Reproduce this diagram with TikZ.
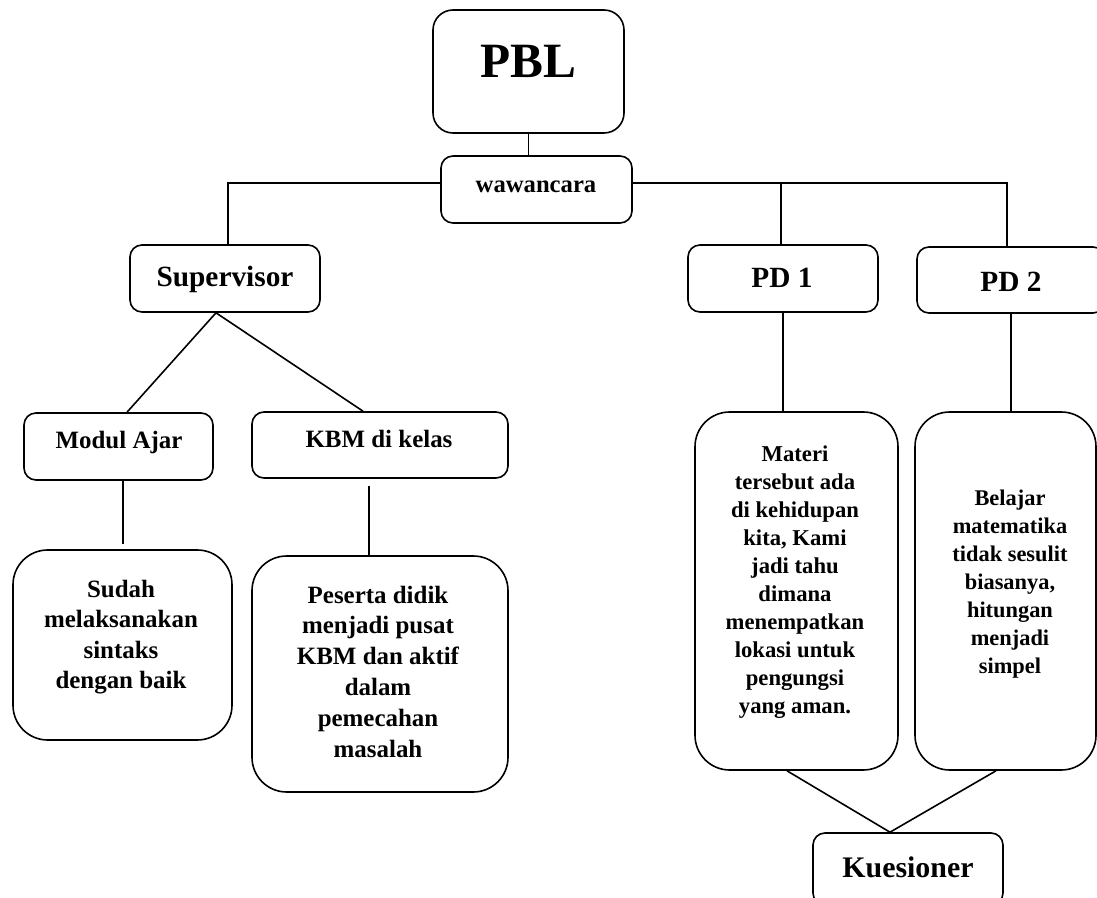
\documentclass[tikz,border=0pt]{standalone}
\usepackage{fontspec}
\setmainfont{Liberation Serif}
\usetikzlibrary{calc}
\begin{document}
\begin{tikzpicture}[x=0.75pt,y=-0.75pt,line width=1.2pt,
  box/.style={draw,inner sep=0pt,rounded corners=9pt,line width=1.2pt},
  bigbox/.style={draw,inner sep=0pt,rounded corners=26pt,line width=1.2pt},
  txt/.style={inner sep=0pt,anchor=base},
  mtxt/.style={inner sep=0pt,anchor=center,align=center}]
\useasboundingbox (0,0) rectangle (1097,898);
\clip (0,0) rectangle (1097,898);
% boxes
\node[box,rounded corners=15pt,minimum width=143.25pt,minimum height=92.25pt] (pbl) at (528.5,71.5) {};
\node[box,minimum width=143.25pt,minimum height=50.25pt] (waw) at (536.5,189.5) {};
\node[box,minimum width=142.5pt,minimum height=50.25pt] (sup) at (225,278.5) {};
\node[box,minimum width=142.5pt,minimum height=50.25pt] (pd1) at (783,278.5) {};
\node[box,minimum width=141pt,minimum height=49.5pt] (pd2) at (1011,280) {};
\node[box,minimum width=141.75pt,minimum height=50.25pt] (modul) at (118.5,446.5) {};
\node[box,minimum width=192pt,minimum height=49.5pt] (kbm) at (380,445) {};
\node[bigbox,minimum width=164.25pt,minimum height=142.5pt] (sudah) at (122.5,645) {};
\node[bigbox,minimum width=192pt,minimum height=177pt] (peserta) at (380,674) {};
\node[bigbox,minimum width=152.25pt,minimum height=268.5pt] (materi) at (796.5,591) {};
\node[bigbox,minimum width=135.75pt,minimum height=268.5pt] (belajar) at (1005.5,591) {};
\node[box,minimum width=142.5pt,minimum height=54pt] (kues) at (908,869) {};
% texts
\node[txt,font=\fontsize{37}{40}\selectfont\bfseries] (pblT) at (528,78) {PBL};
\node[txt,font=\fontsize{18.5}{22}\selectfont\bfseries] (wawT) at (536,193) {wawancara};
\node[txt,font=\fontsize{22}{26}\selectfont\bfseries] (supT) at (225,287) {Supervisor};
\node[txt,font=\fontsize{22}{26}\selectfont\bfseries] (pd1T) at (782,288) {PD 1};
\node[txt,font=\fontsize{22}{26}\selectfont\bfseries] (pd2T) at (1011,292) {PD 2};
\node[txt,font=\fontsize{18.7}{22}\selectfont\bfseries] (modulT) at (119,449) {Modul Ajar};
\node[txt,font=\fontsize{18.7}{22}\selectfont\bfseries] (kbmT) at (379,448) {KBM di kelas};
\node[txt,font=\fontsize{22.4}{26}\selectfont\bfseries] (kuesT) at (908,877) {Kuesioner};
\node[mtxt,font=\fontsize{18.7}{22.9}\selectfont\bfseries] (sudahT) at (121,637) {Sudah\\melaksanakan\\sintaks\\dengan baik};
\node[mtxt,font=\fontsize{18.7}{23.1}\selectfont\bfseries] (pesertaT) at (378,671.5) {Peserta didik\\menjadi pusat\\KBM dan aktif\\dalam\\pemecahan\\masalah};
\node[mtxt,font=\fontsize{17}{21}\selectfont\bfseries] (materiT) at (795,582) {Materi\\tersebut ada\\di kehidupan\\kita, Kami\\jadi tahu\\dimana\\menempatkan\\lokasi untuk\\pengungsi\\yang aman.};
\node[mtxt,font=\fontsize{16.8}{21}\selectfont\bfseries] (belajarT) at (1010,584) {Belajar\\matematika\\tidak sesulit\\biasanya,\\hitungan\\menjadi\\simpel};
% connectors
\coordinate (wl) at ($(waw.west)+(0,-6.5)$);
\coordinate (wr) at ($(waw.east)+(0,-6.5)$);
\coordinate (supb) at ($(sup.south)+(-9,0)$);
\coordinate (kj) at ($(kues.north)+(-18,0)$);
\draw (pbl.south) -- (pbl.south |- waw.north);
\draw (wl) -| ($(sup.north)+(3,0)$);
\draw (wr) -| ($(pd2.north)+(-4,0)$);
\draw ($(pd1.north)+(-2,0)$) -- ($(pd1.north |- wr)+(-2,0)$);
\draw (supb) -- ($(modul.north)+(8.5,0)$);
\draw (supb) -- ($(kbm.north)+(-17,0)$);
\draw ($(modul.south)+(4.5,0)$) -- ($(sudah.north)+(0.5,-5)$);
\draw ($(kbm.south)+(-11,7)$) -- ($(peserta.north)+(-11,0)$);
\draw (pd1.south) -- (pd1.south |- materi.north);
\draw (pd2.south) -- (pd2.south |- belajar.north);
\draw ($(materi.south)+(-9.5,0)$) -- (kj) -- ($(belajar.south)+(-9.5,0)$);
\end{tikzpicture}
\end{document}
